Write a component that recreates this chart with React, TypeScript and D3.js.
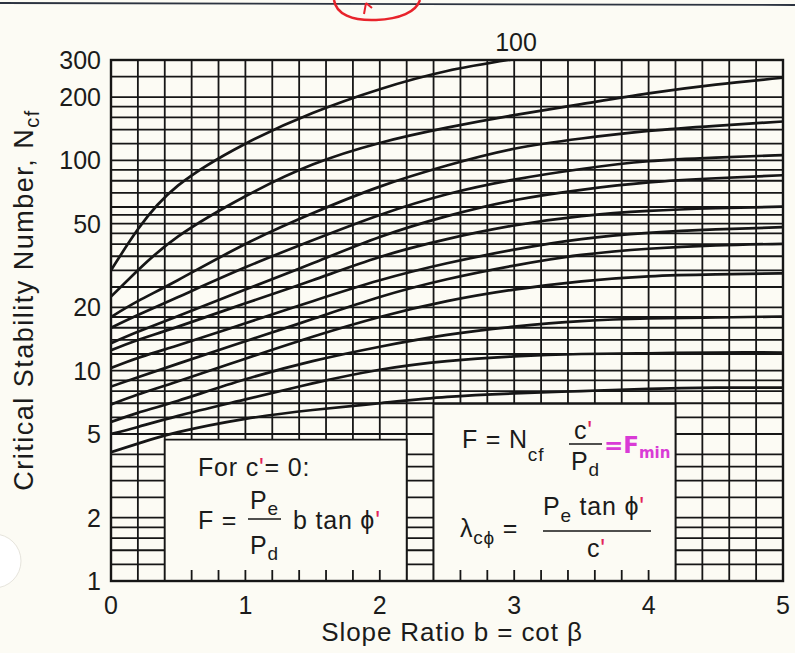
import React, { useEffect, useRef } from "react";
import * as d3 from "d3";

// slope ratio b = cot(beta) at which each curve was read
const slopeRatios = [0, 0.2, 0.5, 1, 1.5, 2, 2.5, 3, 3.5, 4, 4.5, 5];

// lambda_c-phi of each curve, top to bottom (only "100" is printed on the chart)
const lambdaValues = [100, 50, 30, 20, 15, 10, 8, 6, 4, 2, 1, 0];

// critical stability number N_cf
const ncfLambda100 = [30, 47, 76, 120, 168, 218, 266, 303, null, null, null, null];
const ncfLambda50 = [22.5, 30, 43.5, 67.5, 95.5, 121, 143, 164, 185, 208, 229, 247];
const ncfLambda30 = [18, 21.4, 27, 40, 56, 75, 94.5, 113.5, 127, 138, 146, 153];
const ncfLambda20 = [16, 18.4, 22.4, 31, 41.7, 55, 69, 81, 91, 99, 103, 106];
const ncfLambda15 = [13.5, 15.3, 18.2, 24.3, 32.4, 43.2, 54.3, 64.6, 72.4, 78.5, 82.2, 85];
const ncfLambda10 = [12.5, 14, 16.2, 20.9, 26.9, 34.7, 42.2, 49, 54.3, 57.5, 59.2, 60.3];
const ncfLambda8 = [10.3, 11.5, 13.2, 16.8, 21.4, 26.9, 32.4, 37.6, 42.2, 45.2, 47, 48.1];
const ncfLambda6 = [8.4, 9.3, 10.8, 13.8, 17.6, 22.4, 27.2, 31.6, 35.5, 38, 39.4, 40.1];
const ncfLambda4 = [6.9, 7.7, 8.9, 11.4, 14.5, 18, 21.4, 24.3, 26.6, 28.1, 28.7, 29];
const ncfLambda2 = [5.7, 6.3, 7.2, 9.1, 11.1, 13, 14.8, 16.2, 17.2, 17.7, 17.9, 18.1];
const ncfLambda1 = [5, 5.4, 6.1, 7.3, 8.7, 10.1, 11.1, 11.7, 12, 12.1, 12.2, 12.2];
const ncfLambda0 = [4.1, 4.5, 5.1, 5.9, 6.5, 7.0, 7.5, 7.8, 8.0, 8.2, 8.3, 8.3];

const yTickLabels = [1, 2, 5, 10, 20, 50, 100, 200, 300];
const xTickLabels = [0, 1, 2, 3, 4, 5];
// horizontal rulings of the log paper
const yGridValues = [
  1.2, 1.4, 1.6, 1.8, 2, 2.5, 3, 3.5, 4, 5, 6, 7, 8, 9, 10, 12, 14, 16, 18, 20,
  25, 30, 35, 40, 45, 50, 55, 60, 70, 80, 90, 100, 120, 140, 160, 180, 200, 250, 300,
];

const curves = [
  ncfLambda100, ncfLambda50, ncfLambda30, ncfLambda20, ncfLambda15, ncfLambda10,
  ncfLambda8, ncfLambda6, ncfLambda4, ncfLambda2, ncfLambda1, ncfLambda0,
];

const FONT = "'Liberation Sans', Arial, Helvetica, sans-serif";
const PAPER = "#fcfbf4";
const INK = "#161616";
const RED = "#e3245a";
const MAGENTA = "#d93bd6";

const App = () => {
  const svgRef = useRef(null);

  useEffect(() => {
    const width = 795;
    const height = 653;
    const svg = d3.select(svgRef.current);
    svg.selectAll("*").remove();
    svg.attr("width", width).attr("height", height);

    const x = d3.scaleLinear().domain([0, 5]).range([111, 783]);
    const y = d3.scaleLog().domain([1, 300]).range([581, 60]);
    const [x0, x1] = x.range();
    const [yb, yt] = y.range();

    svg.append("rect").attr("width", width).attr("height", height).attr("fill", PAPER);

    // scan edge + red pen mark at top
    svg.append("line").attr("x1", 0).attr("x2", width).attr("y1", 3).attr("y2", 5)
      .attr("stroke", "#2c3340").attr("stroke-width", 1.8);
    svg.append("path")
      .attr("d", "M334,0 C336,14 352,21 376,20 C400,19 416,12 420,0")
      .attr("fill", "none").attr("stroke", "#e8232b").attr("stroke-width", 2.5);
    svg.append("path").attr("d", "M366,3 L364,14 M366,3 L372,8")
      .attr("fill", "none").attr("stroke", "#e8232b").attr("stroke-width", 2);

    // hole punch on the left
    svg.append("circle").attr("cx", -6).attr("cy", 561).attr("r", 27)
      .attr("fill", "#ffffff").attr("stroke", "#e6e4dc").attr("stroke-width", 1);

    const defs = svg.append("defs");
    defs.append("clipPath").attr("id", "plot-clip")
      .append("rect").attr("x", x0).attr("y", yt).attr("width", x1 - x0).attr("height", yb - yt);

    const grid = svg.append("g").attr("stroke", INK).attr("stroke-width", 1.8);
    const xGrid = d3.range(0, 26).map((i) => i * 0.2);
    grid.selectAll("line.v").data(xGrid).enter().append("line")
      .attr("x1", (d) => x(d)).attr("x2", (d) => x(d))
      .attr("y1", yt).attr("y2", yb);
    grid.selectAll("line.h").data(yGridValues).enter().append("line")
      .attr("x1", x0).attr("x2", x1)
      .attr("y1", (d) => y(d)).attr("y2", (d) => y(d));

    const line = d3.line()
      .defined((d) => d[1] != null)
      .x((d) => x(d[0]))
      .y((d) => y(d[1]))
      .curve(d3.curveNatural);

    svg.append("g").attr("clip-path", "url(#plot-clip)")
      .selectAll("path").data(curves).enter().append("path")
      .attr("d", (vals) => line(slopeRatios.map((b, i) => [b, vals[i]])))
      .attr("fill", "none").attr("stroke", INK).attr("stroke-width", 2.7)
      .attr("data-lambda", (d, i) => lambdaValues[i]);

    // formula boxes knocked out of the grid
    const boxes = [
      { from: 0.4, to: 2.2, top: 4.7 },
      { from: 2.4, to: 4.2, top: 6.95 },
    ];
    boxes.forEach((bx) => {
      svg.append("rect")
        .attr("x", x(bx.from)).attr("y", y(bx.top))
        .attr("width", x(bx.to) - x(bx.from)).attr("height", yb - y(bx.top))
        .attr("fill", PAPER);
      svg.append("path")
        .attr("d", `M${x(bx.from)},${yb} V${y(bx.top)} H${x(bx.to)} V${yb}`)
        .attr("fill", "none").attr("stroke", INK).attr("stroke-width", 1.8);
      const inner = xGrid.filter((v) => v > bx.from + 0.01 && v < bx.to - 0.01);
      svg.append("g").selectAll("line").data(inner).enter().append("line")
        .attr("x1", (d) => x(d)).attr("x2", (d) => x(d))
        .attr("y1", yb).attr("y2", yb - 11)
        .attr("stroke", INK).attr("stroke-width", 1.8);
    });

    svg.append("rect").attr("x", x0).attr("y", yt)
      .attr("width", x1 - x0).attr("height", yb - yt)
      .attr("fill", "none").attr("stroke", INK).attr("stroke-width", 2.4);

    const txt = svg.append("g").attr("font-family", FONT).attr("fill", "#1b1b1b");

    txt.selectAll("text.yt").data(yTickLabels).enter().append("text")
      .attr("x", 101).attr("y", (d) => y(d) + 9)
      .attr("text-anchor", "end").attr("font-size", 25).text((d) => d);
    txt.selectAll("text.xt").data(xTickLabels).enter().append("text")
      .attr("x", (d) => x(d)).attr("y", 614)
      .attr("text-anchor", "middle").attr("font-size", 25).text((d) => d);

    txt.append("text").attr("x", 516).attr("y", 51)
      .attr("text-anchor", "middle").attr("font-size", 25).text(lambdaValues[0]);

    txt.append("text").attr("x", 452).attr("y", 641)
      .attr("text-anchor", "middle").attr("font-size", 26).attr("letter-spacing", 0.9)
      .text("Slope Ratio b = cot β");

    const yTitle = txt.append("text")
      .attr("transform", "translate(33,300) rotate(-90)")
      .attr("text-anchor", "middle").attr("font-size", 27).attr("letter-spacing", 1.5);
    yTitle.append("tspan").text("Critical Stability Number, N");
    yTitle.append("tspan").attr("dy", 6).attr("font-size", 20).text("cf");

    const body = txt.append("g").attr("font-size", 25).attr("letter-spacing", 0.8);
    const sub = 19;

    // left box: c' = 0 case
    const t1 = body.append("text").attr("x", 198).attr("y", 476);
    t1.append("tspan").text("For c");
    t1.append("tspan").attr("fill", RED).text("'");
    t1.append("tspan").text("= 0:");
    body.append("text").attr("x", 198).attr("y", 529).text("F =");
    const pe1 = body.append("text").attr("x", 250).attr("y", 509);
    pe1.append("tspan").text("P");
    pe1.append("tspan").attr("dy", 6).attr("font-size", sub).text("e");
    body.append("line").attr("x1", 248).attr("x2", 281).attr("y1", 519).attr("y2", 519)
      .attr("stroke", INK).attr("stroke-width", 1.7);
    const pd1 = body.append("text").attr("x", 250).attr("y", 554);
    pd1.append("tspan").text("P");
    pd1.append("tspan").attr("dy", 6).attr("font-size", sub).text("d");
    const bt = body.append("text").attr("x", 293).attr("y", 529);
    bt.append("tspan").text("b tan ϕ");
    bt.append("tspan").attr("fill", RED).text("'");

    // right box: general case
    const fn = body.append("text").attr("x", 462).attr("y", 448);
    fn.append("tspan").text("F = N");
    fn.append("tspan").attr("dy", 13).attr("font-size", sub).text("cf");
    const cn = body.append("text").attr("x", 574).attr("y", 439);
    cn.append("tspan").text("c");
    cn.append("tspan").attr("fill", RED).text("'");
    body.append("line").attr("x1", 569).attr("x2", 602).attr("y1", 444).attr("y2", 444)
      .attr("stroke", INK).attr("stroke-width", 1.7);
    const pd2 = body.append("text").attr("x", 571).attr("y", 470);
    pd2.append("tspan").text("P");
    pd2.append("tspan").attr("dy", 6).attr("font-size", sub).text("d");

    const fmin = txt.append("text").attr("x", 604).attr("y", 453)
      .attr("fill", MAGENTA).attr("font-family", "'DejaVu Sans', sans-serif")
      .attr("font-weight", "bold").attr("font-size", 23);
    fmin.append("tspan").text("=F");
    fmin.append("tspan").attr("dy", 5).attr("font-size", 15).text("min");

    const lam = body.append("text").attr("x", 460).attr("y", 537);
    lam.append("tspan").text("λ");
    lam.append("tspan").attr("dy", 7).attr("font-size", sub).text("cϕ");
    lam.append("tspan").attr("dy", -7).text(" =");
    const num = body.append("text").attr("x", 543).attr("y", 515);
    num.append("tspan").text("P");
    num.append("tspan").attr("dy", 7).attr("font-size", sub).text("e");
    num.append("tspan").attr("dy", -7).text(" tan ϕ");
    num.append("tspan").attr("fill", RED).text("'");
    body.append("line").attr("x1", 543).attr("x2", 651).attr("y1", 531).attr("y2", 531)
      .attr("stroke", INK).attr("stroke-width", 1.7);
    const den = body.append("text").attr("x", 587).attr("y", 557);
    den.append("tspan").text("c");
    den.append("tspan").attr("fill", RED).text("'");
  }, []);

  return (
    <svg ref={svgRef} style={{ position: "absolute", left: 0, top: 0, display: "block" }}></svg>
  );
};

export default App;
